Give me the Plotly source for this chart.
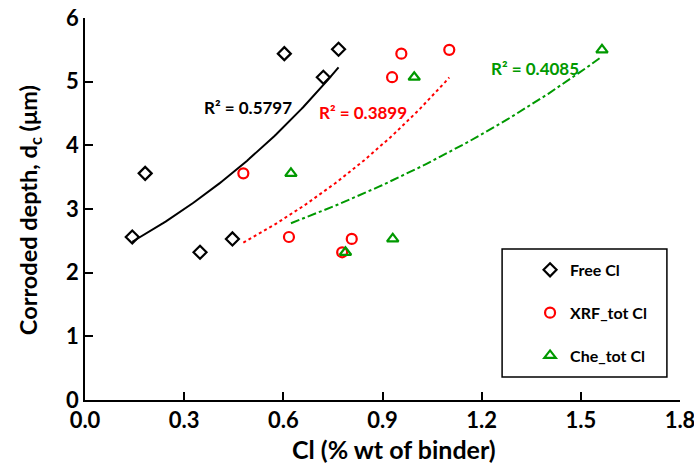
import numpy as np
import plotly.graph_objects as go

# Data
free_x = [0.143, 0.182, 0.348, 0.446, 0.603, 0.721, 0.767]
free_y = [2.56, 3.56, 2.32, 2.53, 5.44, 5.07, 5.51]
xrf_x = [0.479, 0.617, 0.778, 0.807, 0.929, 0.957, 1.102]
xrf_y = [3.56, 2.56, 2.32, 2.53, 5.07, 5.44, 5.50]
che_x = [0.623, 0.788, 0.931, 0.996, 1.564]
che_y = [3.56, 2.32, 2.53, 5.07, 5.50]

series_names = ["Free Cl", "XRF_tot Cl", "Che_tot Cl"]
r2_labels = ["R² = 0.5797", "R² = 0.3899", "R² = 0.4085"]
x_ticks = [0.0, 0.3, 0.6, 0.9, 1.2, 1.5, 1.8]
y_ticks = [0, 1, 2, 3, 4, 5, 6]

FONT = "Lato"
colors = ["#000000", "#FF0000", "#009900"]
symbols = ["diamond-open", "circle-open", "triangle-up-open"]
dashes = ["solid", "dot", "dashdot"]

fig = go.Figure()
datasets = [(free_x, free_y), (xrf_x, xrf_y), (che_x, che_y)]

# exponential trend lines (Excel-style fit on ln y)
for (xs, ys), c, d in zip(datasets, colors, dashes):
    xs_a = np.array(xs)
    ys_a = np.array(ys)
    b, lna = np.polyfit(xs_a, np.log(ys_a), 1)
    xf = np.linspace(xs_a.min(), xs_a.max(), 100)
    yf = np.exp(lna) * np.exp(b * xf)
    fig.add_trace(go.Scatter(x=xf, y=yf, mode="lines", showlegend=False,
                             line=dict(color=c, width=2, dash=d), hoverinfo="skip"))

for (xs, ys), name, c, s in zip(datasets, series_names, colors, symbols):
    fig.add_trace(go.Scatter(x=xs, y=ys, mode="markers", name=f"<b>{name}</b>", legendgroup=name,
                             marker=dict(symbol=s, size=10, color=c,
                                         line=dict(color=c, width=2.2))))

# R² labels
ann_pos = [(0.493, 4.59), (0.842, 4.51), (1.36, 5.20)]
for (ax, ay), t, c in zip(ann_pos, r2_labels, colors):
    fig.add_annotation(x=ax, y=ay, text=f"<b>{t}</b>", showarrow=False,
                       font=dict(family=FONT, size=17, color=c))

# axis titles
fig.add_annotation(xref="paper", yref="paper", x=0.519, y=-0.128, showarrow=False,
                   xanchor="center", yanchor="middle",
                   text="<b>Cl (% wt of binder)</b>", font=dict(family=FONT, size=25, color="black"))
fig.add_annotation(xref="paper", yref="paper", x=-0.0924, y=0.497, showarrow=False, textangle=-90,
                   xanchor="center", yanchor="middle",
                   text="<b>Corroded depth, d<sub>c</sub> (μm)</b>", font=dict(family=FONT, size=23.5, color="black"))

# legend box
fig.add_shape(type="rect", xref="paper", yref="paper", x0=0.701, x1=0.978, y0=0.060, y1=0.395,
              line=dict(color="black", width=1.5), fillcolor="white", layer="below")

fig.update_layout(
    width=694, height=468,
    margin=dict(l=85, r=14, t=18, b=68),
    plot_bgcolor="white", paper_bgcolor="white",
    font=dict(family=FONT, size=22, color="black"),
    showlegend=True,
    legend=dict(x=0.748, y=0.385, xanchor="left", yanchor="top",
                bgcolor="rgba(0,0,0,0)", borderwidth=0,
                font=dict(family=FONT, size=16, color="black"),
                tracegroupgap=19, itemwidth=30),
    xaxis=dict(range=[0, 1.8], tickvals=x_ticks, automargin=False, ticklabeloverflow="allow",
               ticktext=[f"<b>{v:.1f}</b>" for v in x_ticks],
               showline=True, linecolor="black", linewidth=1.5,
               ticks="inside", ticklen=8, tickwidth=1.5, tickcolor="black",
               showgrid=False, zeroline=False),
    yaxis=dict(range=[0, 6], tickvals=y_ticks, automargin=False, ticklabeloverflow="allow",
               ticktext=[f"<b>{v}</b>" for v in y_ticks],
               showline=True, linecolor="black", linewidth=1.5,
               ticks="inside", ticklen=8, tickwidth=1.5, tickcolor="black",
               showgrid=False, zeroline=False),
)

fig.write_html("out.html")
